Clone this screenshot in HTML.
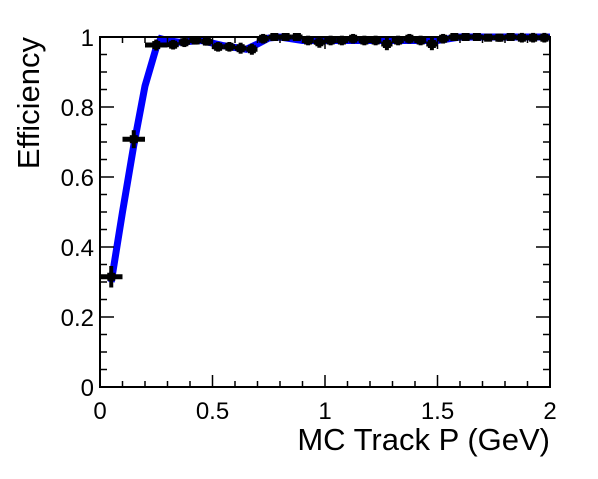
<!DOCTYPE html>
<html><head><meta charset="utf-8"><style>
body{margin:0;background:#fff}
svg text{font-family:"Liberation Sans",Arial,sans-serif;fill:#000}
</style></head><body>
<svg id="c" width="598" height="474" xmlns="http://www.w3.org/2000/svg"></svg>
<script>
const binLo=[0.0,0.1,0.2,0.3,0.35,0.4,0.45,0.5,0.55,0.6,0.65,0.7,0.75,0.8,0.85,0.9,0.95,1.0,1.05,1.1,1.15,1.2,1.25,1.3,1.35,1.4,1.45,1.5,1.55,1.6,1.65,1.7,1.75,1.8,1.85,1.9,1.95];
const binHi=[0.1,0.2,0.3,0.35,0.4,0.45,0.5,0.55,0.6,0.65,0.7,0.75,0.8,0.85,0.9,0.95,1.0,1.05,1.1,1.15,1.2,1.25,1.3,1.35,1.4,1.45,1.5,1.55,1.6,1.65,1.7,1.75,1.8,1.85,1.9,1.95,2.0];
const effVals=[0.315,0.708,0.977,0.978,0.985,0.99,0.987,0.972,0.972,0.968,0.965,0.995,1.0,1.0,1.0,0.99,0.985,0.99,0.99,0.995,0.99,0.99,0.98,0.99,0.995,0.99,0.98,0.995,1.0,1.0,1.0,0.998,0.998,1.0,0.998,0.998,0.998];
const effErr=[0.025,0.02,0.01,0.008,0.008,0.006,0.006,0.008,0.008,0.01,0.01,0.008,0.005,0.005,0.005,0.008,0.01,0.008,0.008,0.008,0.008,0.008,0.012,0.008,0.008,0.008,0.012,0.008,0.005,0.005,0.005,0.005,0.006,0.005,0.008,0.008,0.008];
const fitX=[0.05,0.1,0.15,0.2,0.25,0.27,0.3,0.35,0.45,0.55,0.65,0.7,0.75,0.8,0.9,1.0,1.2,1.4,1.5,1.6,1.8,2.0];
const fitY=[0.3,0.5,0.69,0.86,0.97,0.995,0.99,0.985,0.99,0.975,0.965,0.98,0.997,1.0,0.99,0.99,0.99,0.99,0.99,1.0,1.0,1.0];
const xTicks=["0","0.5","1","1.5","2"];
const yTicks=["0","0.2","0.4","0.6","0.8","1"];
const X0=100,X1=550,Y0=387,Y1=37;
const sx=v=>X0+(X1-X0)*v/2, sy=v=>Y0-(Y0-Y1)*v;
const svg=document.getElementById('c');const NS='http://www.w3.org/2000/svg';
function mk(t,a,p){const e=document.createElementNS(NS,t);for(const k in a)e.setAttribute(k,a[k]);(p||svg).appendChild(e);return e;}
let d='';fitX.forEach((x,i)=>{d+=(i?'L':'M')+sx(x)+' '+sy(fitY[i]);});
const fit=mk('path',{d:d,stroke:'#0000ff','stroke-width':7,fill:'none','stroke-linejoin':'miter'});


binLo.forEach((lo,i)=>{
 const g=mk('g',{});
 
 
 const cx=sx((lo+binHi[i])/2),cy=sy(effVals[i]);
 mk('line',{x1:sx(lo),x2:sx(binHi[i]),y1:cy,y2:cy,stroke:'#000','stroke-width':5},g);
 mk('line',{x1:cx,x2:cx,y1:sy(effVals[i]+effErr[i])-2,y2:sy(effVals[i]-effErr[i])+2,stroke:'#000','stroke-width':4},g);
 mk('rect',{x:cx-4,y:cy-4,width:8,height:8,fill:'#000'},g);
});
const fr=mk('rect',{x:X0,y:Y1,width:X1-X0,height:Y0-Y1,fill:'none',stroke:'#000','stroke-width':2});


for(let i=0;i<=20;i++){const x=sx(i*0.1),L=i%5?6:12;
 mk('line',{x1:x,x2:x,y1:Y0,y2:Y0-L,stroke:'#000','stroke-width':1.5});
 mk('line',{x1:x,x2:x,y1:Y1,y2:Y1+L,stroke:'#000','stroke-width':1.5});}
for(let i=0;i<=20;i++){const y=sy(i*0.05),L=i%4?7:14;
 mk('line',{x1:X0,x2:X0+L,y1:y,y2:y,stroke:'#000','stroke-width':1.5});
 mk('line',{x1:X1,x2:X1-L,y1:y,y2:y,stroke:'#000','stroke-width':1.5});}
xTicks.forEach((t,i)=>{const e=mk('text',{x:sx(i*0.5),y:419,'font-size':24,'text-anchor':'middle'});e.textContent=t;
 });
yTicks.forEach((t,i)=>{const e=mk('text',{x:94,y:sy(i*0.2)+9,'font-size':24,'text-anchor':'end'});e.textContent=t;
 });
const xt=mk('text',{x:550,y:450,'font-size':31,'text-anchor':'end'});xt.textContent='MC Track P (GeV)';

const yt=mk('text',{x:0,y:0,'font-size':31,'text-anchor':'end',transform:'translate(39,37) rotate(-90)'});yt.textContent='Efficiency';

</script>
</body></html>
